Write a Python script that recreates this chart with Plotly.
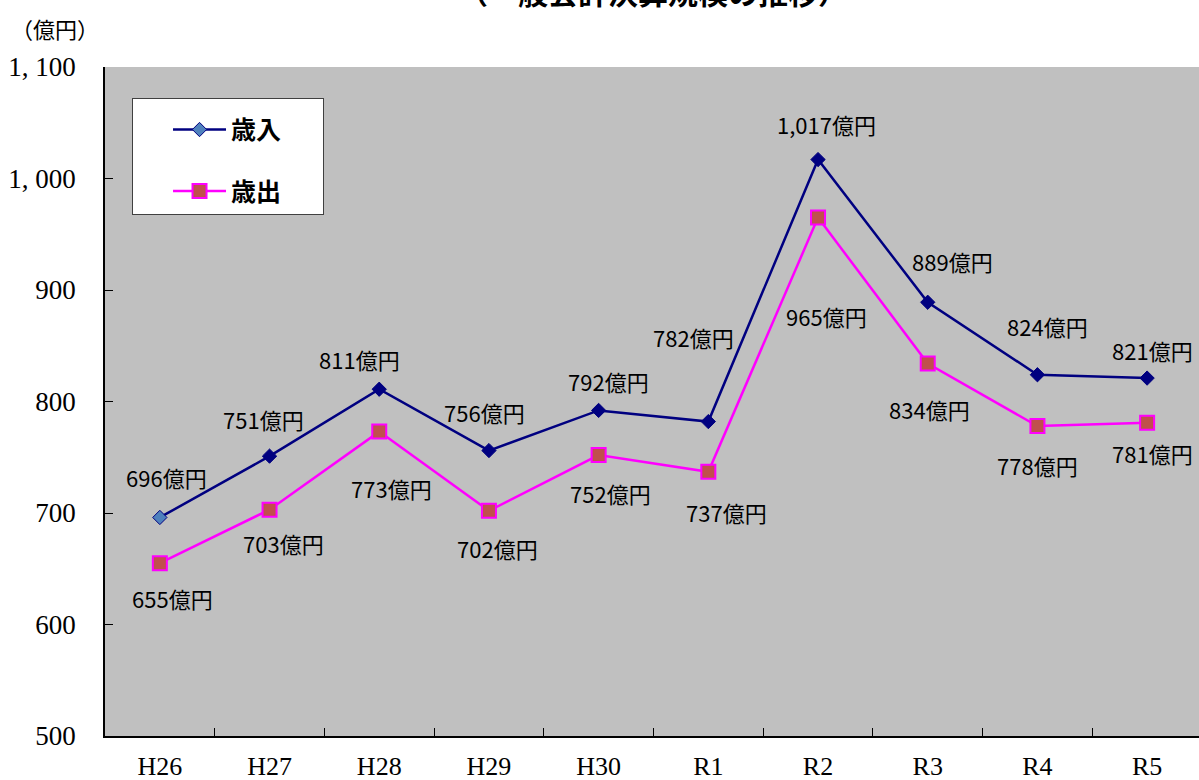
import plotly.graph_objects as go

# 一般会計決算規模（億円）
years = ["H26", "H27", "H28", "H29", "H30", "R1", "R2", "R3", "R4", "R5"]
revenue = [696, 751, 811, 756, 792, 782, 1017, 889, 824, 821]      # 歳入
expenditure = [655, 703, 773, 702, 752, 737, 965, 834, 778, 781]  # 歳出

y_ticks = [500, 600, 700, 800, 900, 1000, 1100]
y_tick_text = ["500", "600", "700", "800", "900", "1, 000", "1, 100"]

# pixel offsets of the value labels from their points (dx right, dy down)
rev_label_offsets = [(7, -40), (-6, -37), (-20, -30), (-4, -39), (10, -29),
                     (-15, -85), (8, -36), (25, -41), (10, -49), (5, -28)]
exp_label_offsets = [(13, 35), (14, 33), (12, 56), (9, 37), (12, 38),
                     (18, 40), (8, 98), (2, 45), (0, 39), (5, 30)]

NAVY = "#000080"
MAGENTA = "#FF00FF"
LABEL_FONT = "Noto Sans CJK JP"
SERIF = "Liberation Serif, Noto Sans CJK JP"

fig = go.Figure()

rev_fill = [NAVY] * len(years)
rev_fill[0] = "#4F81BD"
fig.add_trace(go.Scatter(
    x=years, y=revenue, name="歳入　&nbsp;&nbsp;", mode="lines+markers",
    legendgroup="rev",
    line=dict(color=NAVY, width=2.5),
    marker=dict(symbol="diamond", size=11, color=rev_fill,
                line=dict(color=NAVY, width=1)),
))
fig.add_trace(go.Scatter(
    x=years, y=expenditure, name="歳出　&nbsp;&nbsp;", mode="lines+markers",
    legendgroup="exp",
    line=dict(color=MAGENTA, width=2.5),
    marker=dict(symbol="square", size=14, color="#C0504D",
                line=dict(color=MAGENTA, width=2)),
))

annotations = []
for series, offsets in ((revenue, rev_label_offsets), (expenditure, exp_label_offsets)):
    for yr, v, (dx, dy) in zip(years, series, offsets):
        annotations.append(dict(
            x=yr, y=v, xref="x", yref="y", text=f"{v:,}億円",
            showarrow=False, xshift=dx, yshift=-dy,
            font=dict(family=LABEL_FONT, size=22, color="#000000"),
        ))

# chart title, sitting at the very top edge of the page
annotations.append(dict(
    x=0.501, y=1.1495, xref="paper", yref="paper", xanchor="center", yanchor="top",
    text="<b>（一般会計決算規模の推移）</b>", showarrow=False,
    font=dict(family=LABEL_FONT, size=30, color="#000000"),
))
# unit label above the value axis
annotations.append(dict(
    x=-0.0457, y=1.0852, xref="paper", yref="paper", xanchor="center", yanchor="top",
    text="（億円）", showarrow=False,
    font=dict(family=LABEL_FONT, size=22, color="#000000"),
))

fig.update_layout(
    width=1199, height=780,
    margin=dict(l=105, r=0, t=67, b=44, autoexpand=False),
    paper_bgcolor="#FFFFFF",
    plot_bgcolor="#C0C0C0",
    annotations=annotations,
    showlegend=True,
    legend=dict(
        x=0.0247, y=0.9537, xanchor="left", yanchor="top",
        bgcolor="#FFFFFF", bordercolor="#404040", borderwidth=1,
        font=dict(family=LABEL_FONT, size=25, color="#000000", weight="bold"),
        title=dict(text="&nbsp;", font=dict(size=6)),
        tracegroupgap=26, itemwidth=53, indentation=35,
    ),
    xaxis=dict(
        type="category", range=[-0.5, 9.473],
        showgrid=False, zeroline=False,
        showline=True, linecolor="#000000", linewidth=1.5,
        ticks="inside", tickson="boundaries", ticklen=8, tickcolor="#000000",
        tickfont=dict(family=SERIF, size=26, color="#000000"),
        ticklabelstandoff=6,
        automargin=False,
    ),
    yaxis=dict(
        range=[500, 1100], tickvals=y_ticks, ticktext=y_tick_text,
        showgrid=False, zeroline=False,
        showline=True, linecolor="#000000", linewidth=1.5,
        ticks="inside", ticklen=8, tickcolor="#000000",
        tickfont=dict(family=SERIF, size=27, color="#000000"),
        ticklabelstandoff=22,
        automargin=False,
    ),
)

fig.write_html("out.html")
